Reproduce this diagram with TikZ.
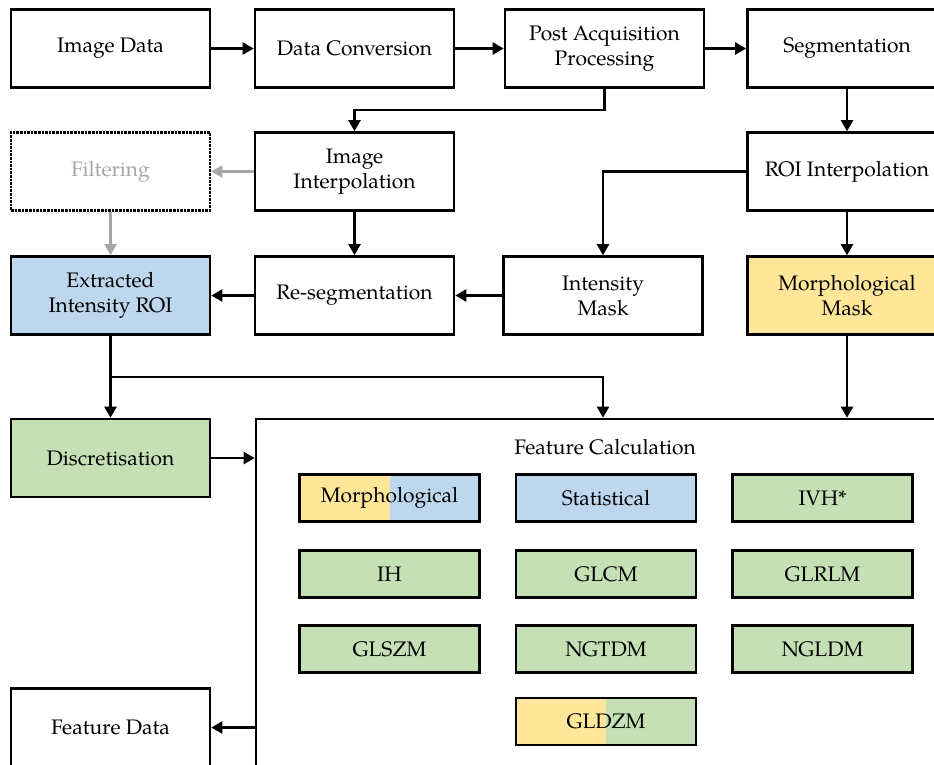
\documentclass[tikz,border=0pt]{standalone}
\usepackage{fontspec}
\setmainfont{TeX Gyre Pagella}
\usetikzlibrary{arrows.meta}
\definecolor{cblue}{HTML}{BDD7EE}
\definecolor{cgreen}{HTML}{C5E0B4}
\definecolor{cyellow}{HTML}{FFE699}
\definecolor{cgray}{HTML}{A6A6A6}
\tikzset{
  box/.style={draw=black, line width=2.6pt, minimum width=199pt, minimum height=78pt,
    align=center, font=\fontsize{21}{25}\selectfont, inner sep=2pt},
  small/.style={draw=black, line width=2.6pt, minimum width=180pt, minimum height=47pt,
    align=center, font=\fontsize{21}{25}\selectfont, inner sep=2pt},
  conn/.style={line width=2.2pt, -{Triangle[length=11pt,width=12pt]}},
  gconn/.style={conn, draw=cgray, -{Triangle[length=11pt,width=12pt, fill=cgray]}},
  halfyellow/.style={path picture={\fill[cyellow] (path picture bounding box.south west) rectangle (path picture bounding box.north);}}
}
\begin{document}
\begin{tikzpicture}[x=1pt,y=-1pt]
\useasboundingbox (0,0) rectangle (934,764);
\clip (0,0) rectangle (934,764);
% row 1
\node[box] (img) at (110.5,48.5) {Image Data};
\node[box] (dc) at (354.5,48.5) {Data Conversion};
\node[box] (pap) at (604.5,48.5) {Post Acquisition\\Processing};
\node[box] (seg) at (847,48.5) {Segmentation};
% row 2
\node[box, draw=black, densely dotted, text=cgray] (fil) at (110.5,171.5) {Filtering};
\node[box] (ii) at (354.5,171.5) {Image\\Interpolation};
\node[box] (roi) at (847,171.5) {ROI Interpolation};
% row 3
\node[box, fill=cblue] (eir) at (110.5,295.5) {Extracted\\Intensity ROI};
\node[box] (rs) at (354.5,295.5) {Re-segmentation};
\node[box] (im) at (603,295.5) {Intensity\\Mask};
\node[box, fill=cyellow] (mm) at (847,295.5) {Morphological\\Mask};
% row 4
\node[box, fill=cgreen] (disc) at (110.5,458) {Discretisation};
\node[box] (fd) at (110.5,727.5) {Feature Data};
\node[draw=black, line width=2.6pt, minimum width=694pt, minimum height=362pt] (fc) at (603,600) {};
\node[font=\fontsize{21}{25}\selectfont] (fct) at (605,447) {Feature Calculation};
% inner boxes
\node[small, fill=cblue, halfyellow] (morph) at (389.5,498) {Morphological};
\node[small, fill=cblue] (stat) at (606,498) {Statistical};
\node[small, fill=cgreen] (ivh) at (822.5,498) {IVH*};
\node[small, fill=cgreen] (ih) at (389.5,574) {IH};
\node[small, fill=cgreen] (glcm) at (606,574) {GLCM};
\node[small, fill=cgreen] (glrlm) at (822.5,574) {GLRLM};
\node[small, fill=cgreen] (glszm) at (389.5,649) {GLSZM};
\node[small, fill=cgreen] (ngtdm) at (606,649) {NGTDM};
\node[small, fill=cgreen] (ngldm) at (822.5,649) {NGLDM};
\node[small, fill=cgreen, halfyellow] (gldzm) at (606,721.5) {GLDZM};
% connectors
\draw[conn] (img) -- (dc);
\draw[conn] (dc) -- (pap);
\draw[conn] (pap) -- (seg);
\draw[conn] (seg) -- (roi);
\coordinate (k1) at (604.5,110);
\draw[conn] (pap.south) -- (k1) -| (ii.north);
\draw[gconn] (ii) -- (fil);
\draw[gconn] (fil) -- (eir);
\draw[conn] (ii) -- (rs);
\draw[conn] (roi.west) -| (im.north);
\draw[conn] (roi) -- (mm);
\draw[conn] (im) -- (rs);
\draw[conn] (rs) -- (eir);
\draw[conn] (eir) -- (disc);
\coordinate (br) at (110.5,377);
\draw[conn] (br) -| (fc.north);
\draw[conn] (mm.south) -- (mm.south |- fc.north);
\draw[conn] (disc) -- (disc -| fc.west);
\draw[conn] (fd -| fc.west) -- (fd);
\end{tikzpicture}
\end{document}
